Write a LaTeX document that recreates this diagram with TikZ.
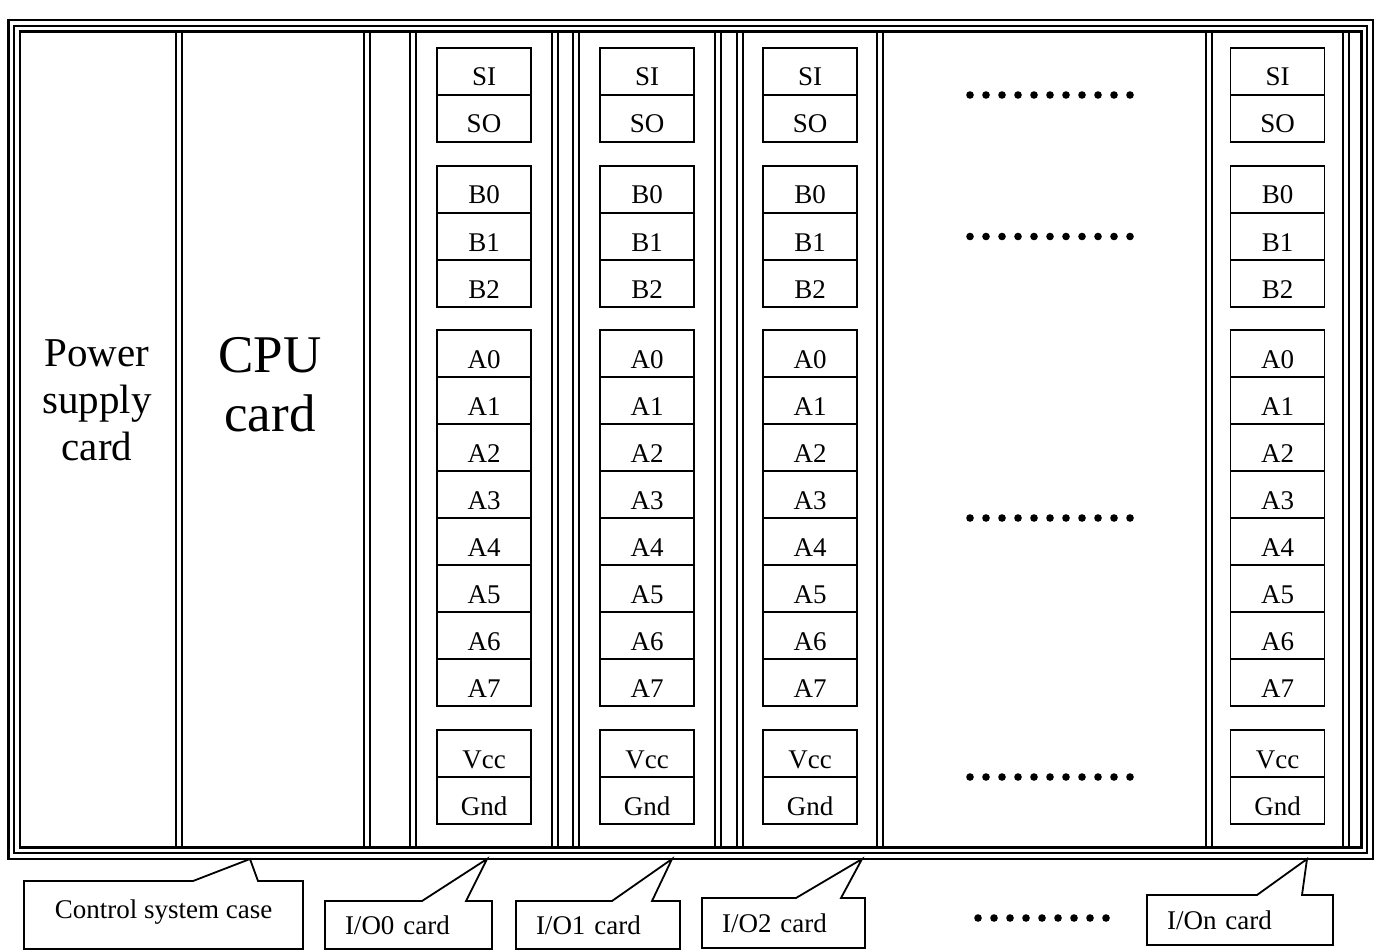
\documentclass[tikz,border=0pt]{standalone}
\usepackage{fontspec}
\setmainfont{Liberation Serif}
\usepackage{tikz}
\usetikzlibrary{positioning}

\begin{document}
\begin{tikzpicture}[
  x=1pt, y=-1pt,
  framebox/.style={draw=black, line width=2.4pt, double=white, double distance=9pt},
  frameline/.style={draw=black, line width=2.4pt},
  slotline/.style={draw=black, line width=2pt, double=white, double distance=3.6pt},
  cell/.style={draw=black, line width=1.8pt, minimum width=94pt, minimum height=47pt, inner sep=0pt, outer sep=0pt, text height=29pt, text depth=0pt, font=\fontsize{27}{30}\selectfont},
  bigtext/.style={align=center, inner sep=0pt},
  callbox/.style={inner sep=0pt, outer sep=0pt, font=\fontsize{27}{32}\selectfont},
  iobox/.style={callbox, align=left, text width=#1, inner xsep=20pt},
  callline/.style={draw=black, line width=1.8pt, line join=miter}
]
\useasboundingbox (0,0) rectangle (1391,952);

% card slots
\foreach \sx in {179,367,413,555,576,718,740,880,1209,1346}
  \draw[slotline] (\sx,32) -- (\sx,847);

% case outline, three lines
\draw[framebox] (14,26) rectangle (1367,853);
\draw[frameline] (14,26) rectangle (1367,853);

\node[bigtext, font=\fontsize{41}{47}\selectfont] (power) at (97,400) {Power\\supply\\card};
\node[bigtext, font=\fontsize{53}{59}\selectfont] (cpu) at (270,385) {CPU\\card};

% pins of the I/O cards
\foreach \col/\cx in {0/484,1/647,2/810,n/1277.5} {
  \node[cell, anchor=north] (si-\col) at (\cx,48) {SI};
  \node[cell, below=0pt of si-\col] (so-\col) {SO};
  \node[cell, below=24pt of so-\col] (b0-\col) {B0};
  \node[cell, below=0pt of b0-\col] (b1-\col) {B1};
  \node[cell, below=0pt of b1-\col] (b2-\col) {B2};
  \node[cell, below=23pt of b2-\col] (a0-\col) {A0};
  \foreach \i [remember=\i as \prev (initially 0)] in {1,...,7}
    \node[cell, below=0pt of a\prev-\col] (a\i-\col) {A\i};
  \node[cell, below=24pt of a7-\col] (vcc-\col) {Vcc};
  \node[cell, below=0pt of vcc-\col] (gnd-\col) {Gnd};
}

% more cards
\foreach \ry in {95,236.5,518,777}
  \foreach \k in {0,...,10}
    \fill ({970+16*\k},\ry) circle (3.8pt);
\foreach \k in {0,...,8}
  \fill ({978+16*\k},918) circle (3.8pt);

% callouts
\coordinate (caseTip) at (250,859);
\coordinate (ioTip0) at (487,859);
\coordinate (ioTip1) at (672,859);
\coordinate (ioTip2) at (862,859);
\coordinate (ioTipn) at (1307,859);
\node[callbox, minimum width=279pt, minimum height=68pt, text height=6pt, text depth=0pt] (caseLbl) at (163.5,915) {Control system case};
\node[iobox=127pt, minimum height=48pt] (io0Lbl) at (408.5,925) {I/O0 card};
\node[iobox=124pt, minimum height=48pt] (io1Lbl) at (598,925) {I/O1 card};
\node[iobox=123pt, minimum height=50pt] (io2Lbl) at (783.5,923) {I/O2 card};
\node[iobox=146pt, minimum height=50pt] (ionLbl) at (1240,920) {I/On card};
\draw[callline] (caseLbl.north west) -- ([xshift=169pt]caseLbl.north west) -- (caseTip) -- ([xshift=234pt]caseLbl.north west) -- (caseLbl.north east) -- (caseLbl.south east) -- (caseLbl.south west) -- cycle;
\draw[callline] (io0Lbl.north west) -- ([xshift=97pt]io0Lbl.north west) -- (ioTip0) -- ([xshift=141pt]io0Lbl.north west) -- (io0Lbl.north east) -- (io0Lbl.south east) -- (io0Lbl.south west) -- cycle;
\draw[callline] (io1Lbl.north west) -- ([xshift=96pt]io1Lbl.north west) -- (ioTip1) -- ([xshift=136pt]io1Lbl.north west) -- (io1Lbl.north east) -- (io1Lbl.south east) -- (io1Lbl.south west) -- cycle;
\draw[callline] (io2Lbl.north west) -- ([xshift=94pt]io2Lbl.north west) -- (ioTip2) -- ([xshift=139pt]io2Lbl.north west) -- (io2Lbl.north east) -- (io2Lbl.south east) -- (io2Lbl.south west) -- cycle;
\draw[callline] (ionLbl.north west) -- ([xshift=110pt]ionLbl.north west) -- (ioTipn) -- ([xshift=155pt]ionLbl.north west) -- (ionLbl.north east) -- (ionLbl.south east) -- (ionLbl.south west) -- cycle;
\end{tikzpicture}
\end{document}
